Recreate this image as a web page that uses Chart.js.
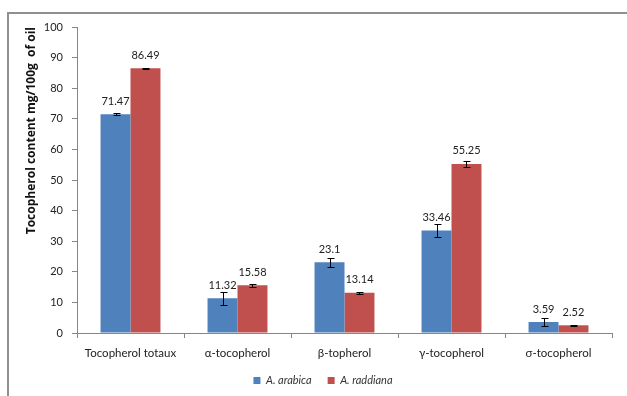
<!DOCTYPE html>
<html>
<head>
<meta charset="utf-8">
<script src="https://cdn.jsdelivr.net/npm/chart.js@4/dist/chart.umd.min.js"></script>
<style>
  html, body { margin: 0; padding: 0; background: #fff; }
  #wrap { position: relative; width: 627px; height: 396px; overflow: hidden; }
  #frame { position: absolute; left: 7px; top: 12px; width: 640px; height: 400px;
           border-left: 2px solid #8f8f8f; border-top: 2px solid #8f8f8f; }
  canvas { position: absolute; left: 0; top: 0; }
</style>
</head>
<body>
<div id="wrap">
  <div id="frame"></div>
  <canvas id="c" width="627" height="396"></canvas>
</div>
<script>
// Tocopherol content (mg/100 g of oil) of two Acacia seed oils
const categories = ['Tocopherol totaux', 'α-tocopherol', 'β-topherol', 'γ-tocopherol', 'σ-tocopherol'];
const arabica = [71.47, 11.32, 23.1, 33.46, 3.59];
const raddiana = [86.49, 15.58, 13.14, 55.25, 2.52];
// standard deviations
const arabicaErr = [0.3, 2.2, 1.5, 2.0, 1.2];
const raddianaErr = [0.2, 0.5, 0.4, 1.0, 0.2];
const seriesNames = ['A. arabica', 'A. raddiana'];
const yMin = 0, yMax = 100, yStep = 10;

const FONT = "Lato, 'Open Sans', 'DejaVu Sans', sans-serif";
const AXIS_GRAY = '#868686';

// error bars with caps
const errorBars = {
  id: 'errorBars',
  afterDatasetsDraw(chart) {
    const ctx = chart.ctx;
    const y = chart.scales.y;
    ctx.save();
    ctx.strokeStyle = '#000';
    ctx.lineWidth = 1;
    chart.data.datasets.forEach((ds, di) => {
      const meta = chart.getDatasetMeta(di);
      meta.data.forEach((bar, i) => {
        const v = ds.data[i], e = ds.errors[i];
        const top = Math.round(y.getPixelForValue(v + e)) + 0.5;
        const bot = Math.round(y.getPixelForValue(v - e)) + 0.5;
        const x = Math.round(bar.x) + 0.5;
        ctx.beginPath();
        ctx.moveTo(x, top); ctx.lineTo(x, bot);
        ctx.moveTo(x - 3, top); ctx.lineTo(x + 4, top);
        ctx.moveTo(x - 3, bot); ctx.lineTo(x + 4, bot);
        ctx.stroke();
      });
    });
    ctx.restore();
  }
};

// value labels above each bar
const valueLabels = {
  id: 'valueLabels',
  afterDatasetsDraw(chart) {
    const ctx = chart.ctx;
    ctx.save();
    ctx.font = '11px ' + FONT;
    ctx.fillStyle = '#222';
    ctx.textAlign = 'center';
    ctx.textBaseline = 'middle';
    chart.data.datasets.forEach((ds, di) => {
      chart.getDatasetMeta(di).data.forEach((bar, i) => {
        ctx.fillText(String(ds.data[i]), bar.x, bar.y - 13);
      });
    });
    ctx.restore();
  }
};

new Chart(document.getElementById('c'), {
  type: 'bar',
  data: {
    labels: categories,
    datasets: [
      { label: seriesNames[0], data: arabica, errors: arabicaErr, backgroundColor: '#4F81BD' },
      { label: seriesNames[1], data: raddiana, errors: raddianaErr, backgroundColor: '#C0504D' }
    ]
  },
  options: {
    responsive: false,
    animation: false,
    devicePixelRatio: 1,
    categoryPercentage: 0.56,
    barPercentage: 1,
    layout: { padding: { top: 27, right: 15, left: 34, bottom: 0 } },
    plugins: {
      legend: {
        position: 'bottom',
        labels: {
          boxWidth: 7, boxHeight: 7, padding: 16,
          color: '#333',
          font: { family: FONT, size: 11, style: 'italic' }
        }
      },
      tooltip: { enabled: false }
    },
    scales: {
      x: {
        grid: { drawOnChartArea: false, drawTicks: true, tickLength: 5, color: AXIS_GRAY, offset: true },
        border: { color: AXIS_GRAY, width: 1 },
        ticks: { color: '#222', padding: 8, maxRotation: 0, font: { family: FONT, size: 11.5 } },
        afterFit(s) { s.height = 26; }
      },
      y: {
        min: yMin, max: yMax,
        grid: { drawOnChartArea: false, drawTicks: true, tickLength: 5, color: AXIS_GRAY },
        border: { color: AXIS_GRAY, width: 1 },
        ticks: { stepSize: yStep, color: '#222', padding: 9, font: { family: FONT, size: 11 } },
        title: {
          display: true, align: 'end',
          text: 'Tocopherol content mg/100g  of oil',
          color: '#111',
          font: { family: "'Open Sans', " + FONT, size: 12, weight: 'bold' },
          padding: { top: -10, bottom: 0 }
        },
        afterFit(s) { s.width = 43; }
      }
    }
  },
  plugins: [errorBars, valueLabels]
});
</script>
</body>
</html>
